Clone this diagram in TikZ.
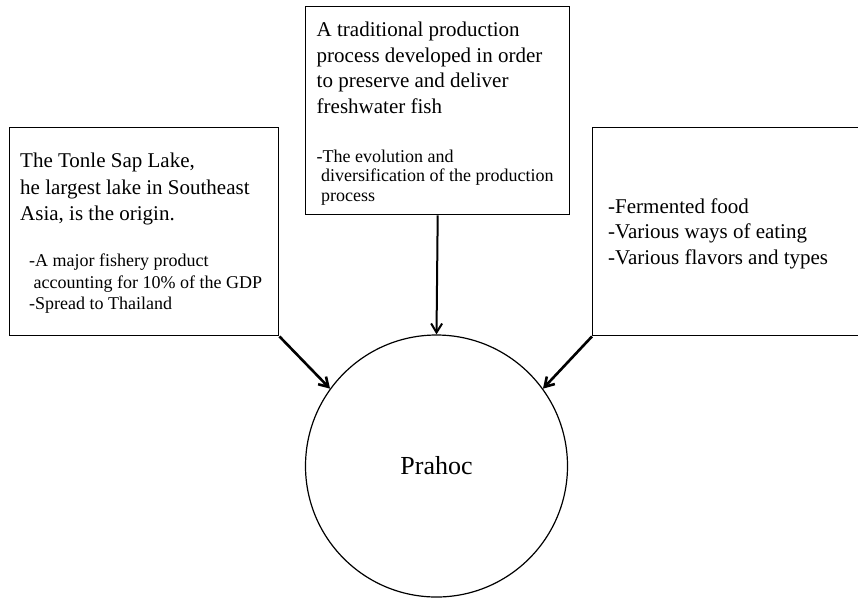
\documentclass[tikz,border=0pt]{standalone}
\usepackage{fontspec}
\setmainfont{Liberation Serif}
\usetikzlibrary{arrows.meta}
\newcommand\mainsize{\fontsize{21}{25.5}\selectfont}
\newcommand\notesize{\fontsize{18}{21.5}\selectfont}
\begin{document}
\begin{tikzpicture}[x=1pt,y=-1pt,
  infobox/.style={draw, line width=1.4pt, rectangle, anchor=north west, inner sep=0pt},
  txt/.style={anchor=north west, inner sep=0pt, align=left},
  feed/.style={line width=2.6pt, -{Straight Barb[length=9pt,width=11pt]}},
  feedthin/.style={line width=2pt, -{Straight Barb[length=9pt,width=11pt]}}]
\useasboundingbox (0,0) rectangle (858,598);
\clip (0,0) rectangle (858,598);

% three boxes
\node[infobox, minimum width=269pt, minimum height=208pt] (lbox) at (9,127) {};
\node[infobox, minimum width=264pt, minimum height=208pt] (mbox) at (305,6) {};
\node[infobox, minimum width=290pt, minimum height=208pt] (rbox) at (592,127) {};

% central circle
\node[draw, circle, line width=1.2pt, minimum size=262pt, inner sep=0pt,
      font=\fontsize{26}{30}\selectfont] (prahoc) at (436.5,466) {Prahoc};

% left box text
\node[txt, font=\fontsize{21}{26.5}\selectfont] (ltitle) at (20,153) {The Tonle Sap Lake,\\he largest lake in Southeast\\Asia, is the origin.};
\node[txt, font=\notesize] (lnotes) at (29,254) {-A major fishery product\\\hspace*{4.5pt}accounting for 10\% of the GDP\\-Spread to Thailand};

% middle box text
\node[txt, font=\mainsize] (mtitle) at (316.5,21.8) {A traditional production\\process developed in order\\to preserve and deliver\\freshwater fish};
\node[txt, font=\fontsize{18}{19.5}\selectfont] (mnotes) at (316.5,149.5) {-The evolution and\\\hspace*{4.5pt}diversification of the production\\\hspace*{4.5pt}process};

% right box text
\node[txt, font=\mainsize] (rnotes) at (608,198.5) {-Fermented food\\-Various ways of eating\\-Various flavors and types};

% connectors
\draw[feed] (lbox.south east) -- (prahoc.144);
\draw[feedthin] (mbox.south) -- (prahoc.north);
\draw[feed] (rbox.south west) -- (prahoc.36);
\end{tikzpicture}
\end{document}
